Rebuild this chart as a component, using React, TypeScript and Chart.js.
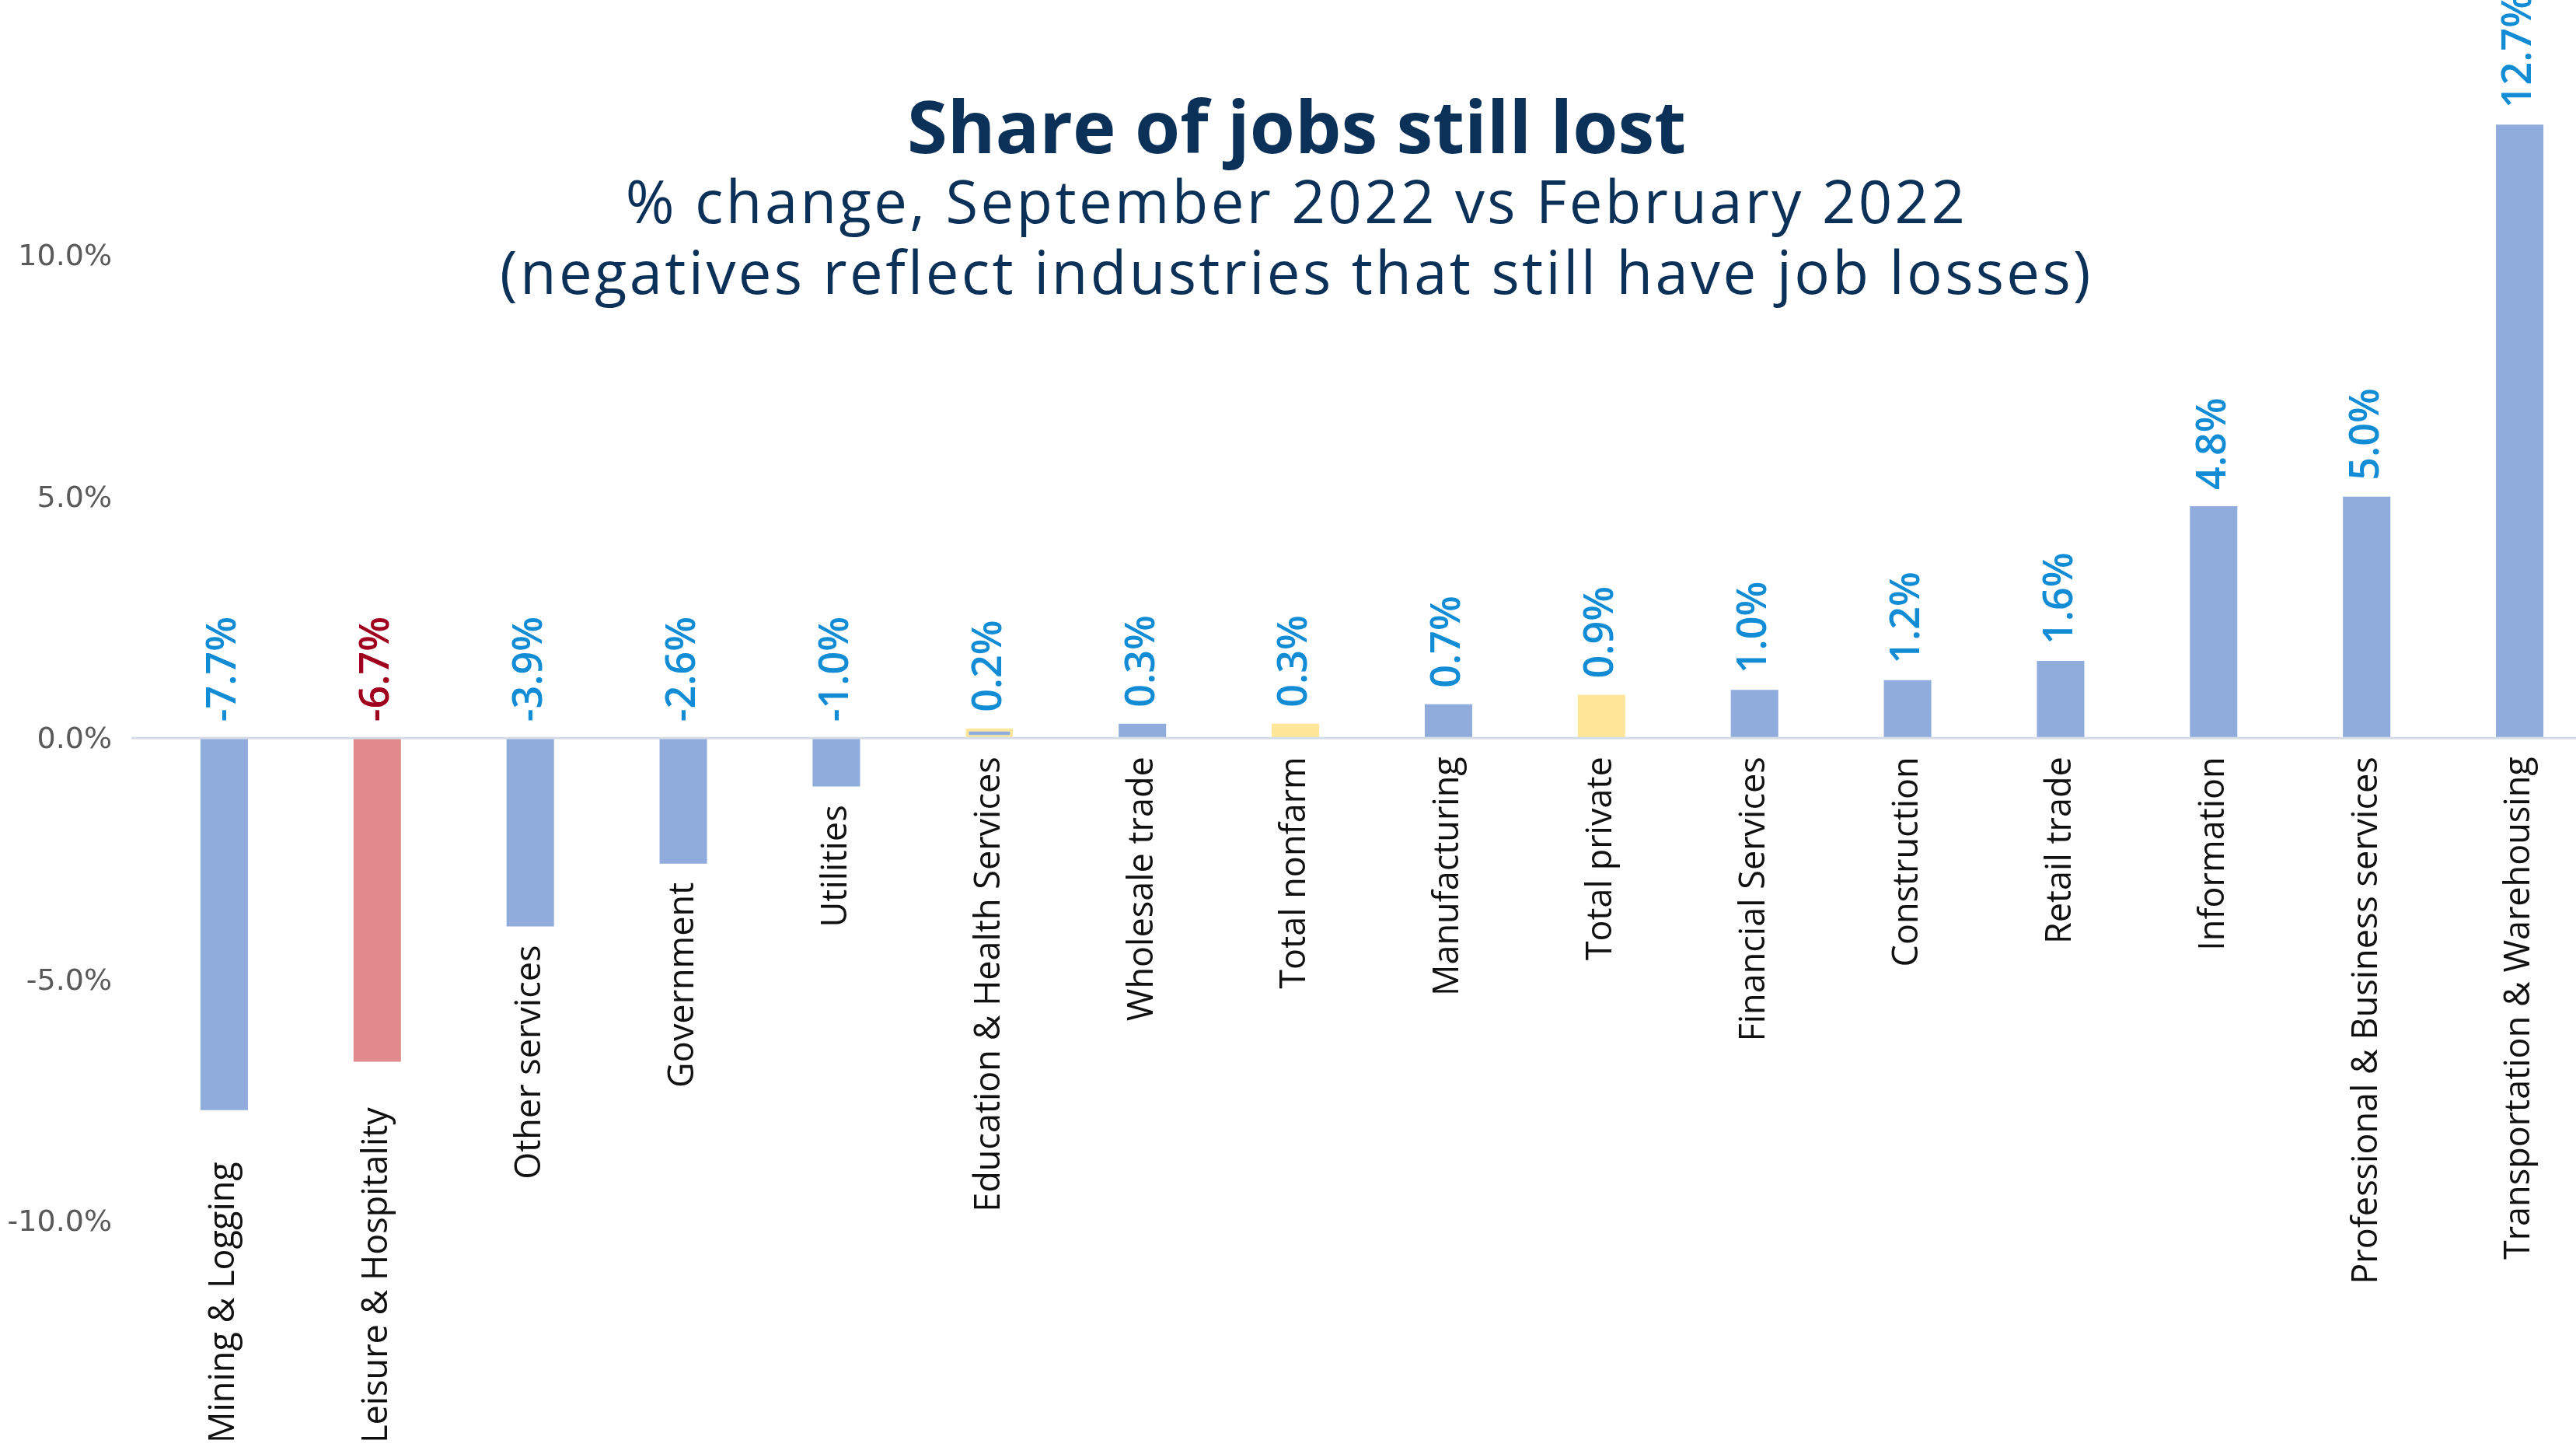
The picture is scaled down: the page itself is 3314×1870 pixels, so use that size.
import React, { useEffect, useRef } from "react";
import { Chart, registerables } from "chart.js";

Chart.register(...registerables);

const categories = [
  "Mining & Logging",
  "Leisure & Hospitality",
  "Other services",
  "Government",
  "Utilities",
  "Education & Health Services",
  "Wholesale trade",
  "Total nonfarm",
  "Manufacturing",
  "Total private",
  "Financial Services",
  "Construction",
  "Retail trade",
  "Information",
  "Professional & Business services",
  "Transportation & Warehousing",
];

const values = [-7.7, -6.7, -3.9, -2.6, -1.0, 0.2, 0.3, 0.3, 0.7, 0.9, 1.0, 1.2, 1.6, 4.8, 5.0, 12.7];

const BLUE = "#8facdc";
const RED = "#e08a8c";
const YELLOW = "#ffe699";

const barColors = [BLUE, RED, BLUE, BLUE, BLUE, BLUE, BLUE, YELLOW, BLUE, YELLOW, BLUE, BLUE, BLUE, BLUE, BLUE, BLUE];
const borderColors = [BLUE, RED, BLUE, BLUE, BLUE, YELLOW, BLUE, YELLOW, BLUE, YELLOW, BLUE, BLUE, BLUE, BLUE, BLUE, BLUE];
const borderWidths = [0, 0, 0, 0, 0, 4, 0, 0, 0, 0, 0, 0, 0, 0, 0, 0];
const labelColors = ["#138cd6", "#a0001e", "#138cd6", "#138cd6", "#138cd6", "#138cd6", "#138cd6", "#138cd6", "#138cd6", "#138cd6", "#138cd6", "#138cd6", "#138cd6", "#138cd6", "#138cd6", "#138cd6"];

const yTickValues = [-10, -5, 0, 5, 10];

const titleText = "Share of jobs still lost";
const subtitleLines = [
  "% change, September 2022 vs February 2022",
  "(negatives reflect industries that still have job losses)",
];

const W = 3314;
const H = 1870;
const CANVAS_W = 3340;

export default function App() {
  const ref = useRef<HTMLCanvasElement | null>(null);

  useEffect(() => {
    document.body.style.margin = "0";
    const canvas = ref.current;
    if (!canvas) return;

    const overlay = {
      id: "overlay",
      afterDatasetsDraw(chart: any) {
        const ctx = chart.ctx;
        const xs = chart.scales.x;
        const ys = chart.scales.y;
        const area = chart.chartArea;
        const y0 = ys.getPixelForValue(0);

        // y tick labels
        ctx.save();
        ctx.font = "38px 'DejaVu Sans'";
        ctx.fillStyle = "#595959";
        ctx.textAlign = "right";
        ctx.textBaseline = "middle";
        yTickValues.forEach((t) => {
          ctx.fillText(t.toFixed(1) + "%", area.left - 46, ys.getPixelForValue(t) + 3);
        });
        ctx.restore();

        // zero line
        ctx.save();
        ctx.strokeStyle = "#d5dce6";
        ctx.lineWidth = 3;
        ctx.beginPath();
        ctx.moveTo(area.left - 21, y0);
        ctx.lineTo(chart.width, y0);
        ctx.stroke();
        ctx.restore();

        // value labels
        values.forEach((v, i) => {
          const x = xs.getPixelForValue(i);
          const yTop = ys.getPixelForValue(Math.max(0, v)) - 21;
          ctx.save();
          ctx.translate(x, yTop);
          ctx.rotate(-Math.PI / 2);
          ctx.font = "600 52px 'Open Sans'";
          ctx.fillStyle = labelColors[i];
          ctx.textAlign = "left";
          ctx.textBaseline = "middle";
          ctx.fillText(v.toFixed(1) + "%", 0, 0);
          ctx.restore();
        });

        // category labels
        values.forEach((v, i) => {
          const x = xs.getPixelForValue(i);
          ctx.save();
          ctx.font = "400 45px 'Open Sans'";
          const w = ctx.measureText(categories[i]).width;
          const limit = H - 14;
          let top = ys.getPixelForValue(Math.min(0, v)) + 24;
          if (top + w + 60 > limit) top = limit - w;
          ctx.translate(x, top);
          ctx.rotate(-Math.PI / 2);
          ctx.fillStyle = "#111111";
          ctx.textAlign = "right";
          ctx.textBaseline = "middle";
          ctx.fillText(categories[i], 0, 0);
          ctx.restore();
        });
      },
      afterDraw(chart: any) {
        const ctx = chart.ctx;
        const cx = 1668;
        ctx.save();
        ctx.fillStyle = "#0b3158";
        ctx.textAlign = "center";
        ctx.textBaseline = "alphabetic";
        ctx.font = "700 94px 'Open Sans'";
        ctx.fillText(titleText, cx, 197);
        ctx.font = "400 76px 'Open Sans'";
        (ctx as any).letterSpacing = "3.4px";
        ctx.fillText(subtitleLines[0], cx, 287);
        ctx.fillText(subtitleLines[1], cx, 378);
        ctx.restore();
      },
    };

    const chart = new Chart(canvas, {
      type: "bar",
      data: {
        labels: categories,
        datasets: [
          {
            data: values,
            backgroundColor: barColors,
            borderColor: borderColors,
            borderWidth: borderWidths,
            borderSkipped: false,
            categoryPercentage: 0.31,
            barPercentage: 1,
          },
        ],
      },
      options: {
        responsive: false,
        animation: false,
        devicePixelRatio: 1,
        layout: { padding: 0 },
        plugins: {
          legend: { display: false },
          title: { display: false },
          tooltip: { enabled: false },
        },
        scales: {
          x: {
            display: false,
          },
          y: {
            min: -14.82,
            max: 15.28,
            afterFit(scale: any) {
              scale.width = 190;
            },
            grid: { display: false, drawTicks: false },
            border: { display: false },
            ticks: { display: false },
          },
        },
      },
      plugins: [overlay],
    });

    return () => chart.destroy();
  }, []);

  return (
    <div style={{ width: W, height: H, overflow: "hidden", background: "#ffffff" }}>
      <canvas ref={ref} width={CANVAS_W} height={H} style={{ display: "block", width: CANVAS_W, height: H }} />
    </div>
  );
}
